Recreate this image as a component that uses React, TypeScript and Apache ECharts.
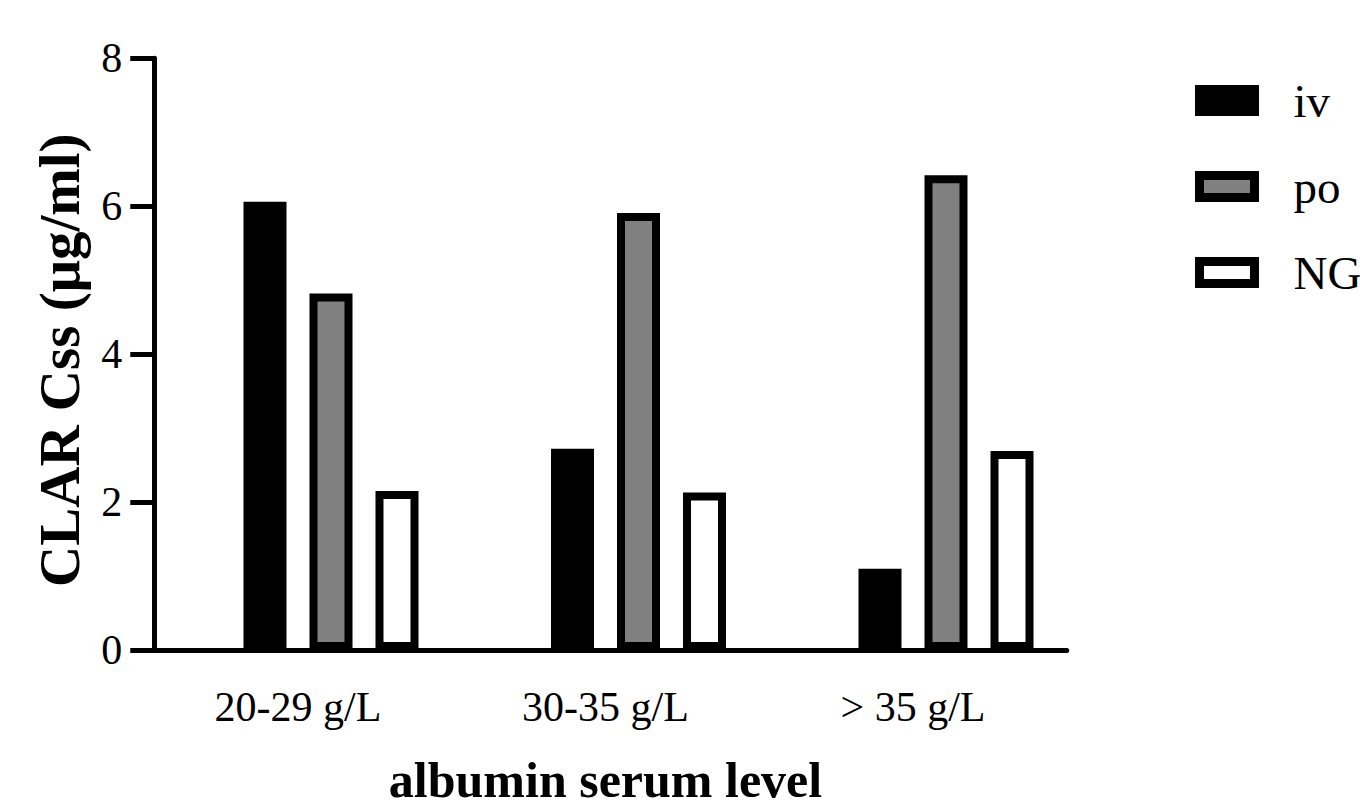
import React, { useEffect, useRef } from "react";
import * as echarts from "echarts";

const categories = ["20-29 g/L", "30-35 g/L", "> 35 g/L"];
const ivValues = [6.06, 2.72, 1.1];
const poValues = [4.82, 5.91, 6.42];
const ngValues = [2.15, 2.13, 2.69];
const spacerValues = ["-", "-", "-"];
const yTicks = { min: 0, max: 8, interval: 2 };

const FONT = "Liberation Serif";

export default function App() {
  const ref = useRef<HTMLDivElement>(null);
  useEffect(() => {
    document.body.style.margin = "0";
    const chart = echarts.init(ref.current!, null, { renderer: "svg" });
    const barBase = {
      type: "bar" as const,
      barWidth: 43,
      barGap: "53.49%",
    };
    chart.setOption({
      animation: false,
      backgroundColor: "#fff",
      grid: { left: 144.25, right: 293.25, top: 58.3, bottom: 151.7 },
      legend: {
        data: ["iv", "po", "NG"],
        orient: "vertical",
        left: 1195,
        top: 77,
        padding: 0,
        itemWidth: 55,
        itemHeight: 22,
        itemGap: 39,
        icon: "rect",
        itemStyle: { borderWidth: 9, borderColor: "#000" },
        textStyle: {
          fontFamily: FONT,
          fontSize: 47,
          lineHeight: 42,
          color: "#000",
          padding: [0, 0, 0, 34],
        },
      },
      xAxis: {
        type: "category",
        data: categories,
        name: "albumin serum level",
        nameLocation: "middle",
        nameGap: 105,
        nameTextStyle: { fontFamily: FONT, fontSize: 50, fontWeight: "bold", color: "#000" },
        axisLine: { lineStyle: { color: "#000", width: 5 } },
        axisTick: { alignWithLabel: true, length: 24, lineStyle: { color: "#000", width: 5 } },
        axisLabel: { fontFamily: FONT, fontSize: 42, color: "#000", margin: 36 },
      },
      yAxis: {
        type: "value",
        min: yTicks.min,
        max: yTicks.max,
        interval: yTicks.interval,
        offset: -10,
        name: "CLAR Css (μg/ml)",
        nameLocation: "middle",
        nameGap: 66,
        nameRotate: 90,
        nameTextStyle: {
          fontFamily: FONT,
          fontSize: 57,
          fontWeight: "bold",
          color: "#000",
          padding: [0, 12, 0, 0],
        },
        splitLine: { show: false },
        axisLine: { show: true, lineStyle: { color: "#000", width: 5 } },
        axisTick: { show: true, length: 24, lineStyle: { color: "#000", width: 5 } },
        axisLabel: { fontFamily: FONT, fontSize: 42, color: "#000", margin: 32 },
      },
      series: [
        { ...barBase, name: "", data: spacerValues, silent: true },
        {
          ...barBase,
          name: "iv",
          data: ivValues,
          itemStyle: { color: "#000", borderColor: "#000", borderWidth: 8 },
        },
        {
          ...barBase,
          name: "po",
          data: poValues,
          itemStyle: { color: "#808080", borderColor: "#000", borderWidth: 8 },
        },
        {
          ...barBase,
          name: "NG",
          data: ngValues,
          itemStyle: { color: "#fff", borderColor: "#000", borderWidth: 8 },
        },
      ],
    });
    return () => chart.dispose();
  }, []);
  return <div ref={ref} style={{ width: 1360, height: 810 }} />;
}
